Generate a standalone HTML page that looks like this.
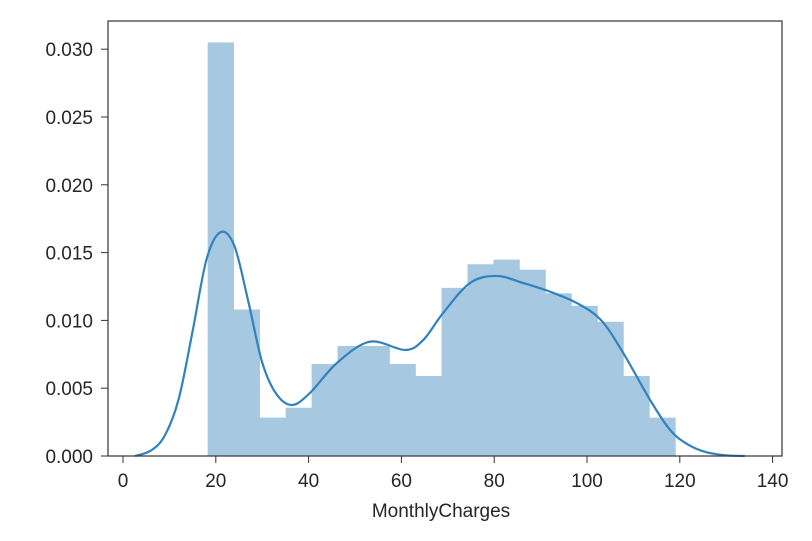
<!DOCTYPE html>
<html><head><meta charset="utf-8"><style>
html,body{margin:0;padding:0;background:#fff;}
svg text{font-family:"Liberation Sans","DejaVu Sans",sans-serif;fill:#262626;}
</style></head><body>
<svg id="chart" width="812" height="536" xmlns="http://www.w3.org/2000/svg">
<g id="bars"></g>
<path id="kde" fill="none" stroke="#3182bd" stroke-width="2.2"/>
<rect x="108" y="21" width="674" height="435" fill="none" stroke="#333" stroke-width="1.2"/>
<g id="xticks"></g>
<g id="yticks"></g>
<text x="441" y="517" font-size="19" text-anchor="middle">MonthlyCharges</text>
</svg>
<script>
const binStart = 18.25;
const binWidth = 5.6;
const binValues = [0.0305,0.0108,0.00283,0.00356,0.00678,0.00811,0.00811,0.00678,0.0059,0.0124,0.01414,0.01448,0.01374,0.0120,0.01108,0.0099,0.0059,0.00283];
const kdeX = [2.6,6,9,12,15,18,21,24,27,30,33,36.4,40.3,46.1,53.2,60.8,64.7,69,74.8,80.5,86.2,92,97.8,103,107.8,113.6,117.9,121.5,125.5,130,134];
const kdeY = [0,0.0004,0.0015,0.0042,0.0092,0.0145,0.0165,0.0155,0.0114,0.0069,0.0046,0.00376,0.00465,0.00686,0.00843,0.00782,0.00855,0.01055,0.01276,0.01328,0.01276,0.01212,0.01128,0.01003,0.0076,0.00413,0.00192,0.0009,0.0003,0.00005,0];
const xTickVals = [0,20,40,60,80,100,120,140];
const yTickVals = [0,0.005,0.010,0.015,0.020,0.025,0.030];
const yTickLabels = ["0.000","0.005","0.010","0.015","0.020","0.025","0.030"];
const NS="http://www.w3.org/2000/svg";
function xs(v){return 123+4.64*v;}
function ys(v){return 456-v/0.005*67.8;}
const bars=document.getElementById('bars');
binValues.forEach((v,i)=>{
  const r=document.createElementNS(NS,'rect');
  
  
  const x0=xs(binStart+i*binWidth), x1=xs(binStart+(i+1)*binWidth);
  r.setAttribute('x',x0);r.setAttribute('width',x1-x0+0.3);
  r.setAttribute('y',ys(v));r.setAttribute('height',ys(0)-ys(v));
  r.setAttribute('fill','#a6c8e0');
  bars.appendChild(r);
});
const pts=kdeX.map((x,i)=>[xs(x),ys(kdeY[i])]);
let d='M'+pts[0][0]+','+pts[0][1];
for(let i=0;i<pts.length-1;i++){
  const p0=pts[Math.max(0,i-1)],p1=pts[i],p2=pts[i+1],p3=pts[Math.min(pts.length-1,i+2)];
  const c1=[p1[0]+(p2[0]-p0[0])/6,p1[1]+(p2[1]-p0[1])/6];
  const c2=[p2[0]-(p3[0]-p1[0])/6,p2[1]-(p3[1]-p1[1])/6];
  d+=' C'+c1+' '+c2+' '+p2;
}
document.getElementById('kde').setAttribute('d',d);
const xt=document.getElementById('xticks');
xTickVals.forEach(v=>{
  const l=document.createElementNS(NS,'line');
  
  
  l.setAttribute('x1',xs(v));l.setAttribute('x2',xs(v));l.setAttribute('y1',456);l.setAttribute('y2',463);
  l.setAttribute('stroke','#333');
  xt.appendChild(l);
  const t=document.createElementNS(NS,'text');
  
  
  t.setAttribute('x',xs(v));t.setAttribute('y',487);t.setAttribute('font-size','19');t.setAttribute('text-anchor','middle');
  t.textContent=v;
  xt.appendChild(t);
});
const yt=document.getElementById('yticks');
yTickVals.forEach((v,i)=>{
  const l=document.createElementNS(NS,'line');
  
  
  l.setAttribute('x1',101);l.setAttribute('x2',108);l.setAttribute('y1',ys(v));l.setAttribute('y2',ys(v));
  l.setAttribute('stroke','#333');
  yt.appendChild(l);
  const t=document.createElementNS(NS,'text');
  
  
  t.setAttribute('x',93);t.setAttribute('y',ys(v)+7);t.setAttribute('font-size','19');t.setAttribute('text-anchor','end');
  t.textContent=yTickLabels[i];
  yt.appendChild(t);
});
</script>
</body></html>
